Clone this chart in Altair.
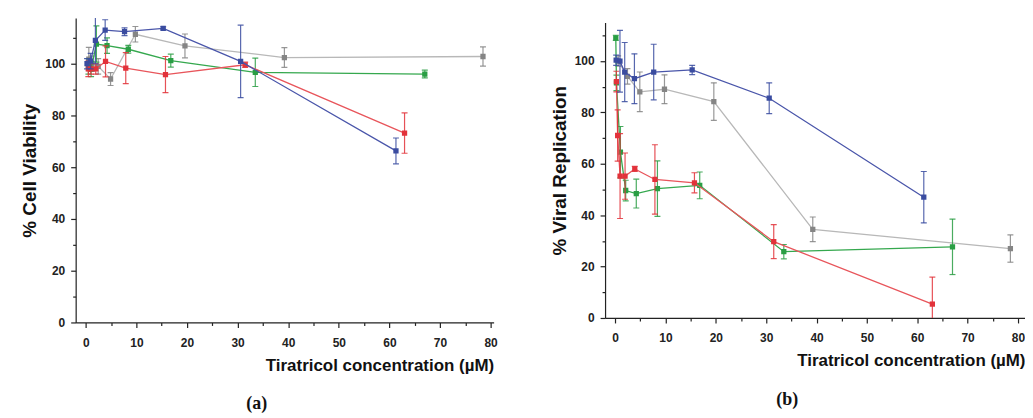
import altair as alt
import pandas as pd

# ---------------- data ----------------
series_names = ["blue", "red", "green", "gray"]
marker_colors = {"blue": "#3a4ca0", "red": "#e2323a", "green": "#2a9e44", "gray": "#858585"}
line_colors = {"blue": "#4a56aa", "red": "#e8555b", "green": "#35a84e", "gray": "#b8b8b8"}

# Panel (a): % Cell Viability
a_blue_x = [0.24, 0.96, 1.9, 3.83, 7.66, 15.3, 30.6, 61.3]
a_blue_y = [100.0, 101.0, 109.0, 113.0, 112.4, 113.7, 100.9, 66.3]
a_blue_e = [2.0, 3.0, 9.0, 4.0, 1.5, 0.6, 14.0, 5.0]

a_red_x = [0.5, 0.98, 1.97, 3.9, 7.9, 15.75, 31.5, 63.0]
a_red_y = [98.0, 98.0, 98.0, 100.9, 98.3, 95.8, 99.6, 73.2]
a_red_e = [3.0, 2.0, 2.0, 6.0, 6.0, 7.0, 1.0, 7.8]

a_green_x = [0.52, 1.05, 2.1, 4.2, 8.4, 16.8, 33.5, 67.0]
a_green_y = [99.0, 98.0, 107.6, 107.0, 105.6, 101.2, 96.7, 96.0]
a_green_e = [3.0, 3.0, 7.0, 3.0, 1.5, 2.5, 5.5, 1.5]

a_gray_x = [0.6, 1.2, 2.45, 4.9, 9.8, 19.6, 39.25, 78.5]
a_gray_y = [101.8, 100.0, 99.0, 94.1, 111.4, 106.9, 102.4, 102.8]
a_gray_e = [4.5, 3.0, 3.0, 2.5, 3.0, 4.6, 3.8, 3.7]

# Panel (b): % Viral Replication
b_blue_x = [0.2, 0.96, 1.9, 3.83, 7.66, 15.3, 30.6, 61.3]
b_blue_y = [100.3, 99.9, 95.7, 93.1, 95.7, 96.5, 85.5, 47.0]
b_blue_e = [2.0, 12.0, 11.5, 9.7, 10.8, 1.8, 6.0, 10.0]

b_red_x = [0.25, 0.5, 0.98, 1.97, 3.9, 7.9, 15.75, 31.5, 63.0]
b_red_y = [92.0, 71.0, 55.2, 55.2, 58.0, 53.9, 52.6, 29.7, 5.4]
b_red_e = [4.0, 10.0, 16.5, 9.0, 1.0, 13.5, 3.9, 6.6, 10.5]

b_green_x = [0.13, 0.26, 1.05, 2.1, 4.2, 8.4, 16.8, 33.5, 67.0]
b_green_y = [109.0, 91.5, 64.5, 49.6, 48.4, 50.3, 51.6, 25.8, 27.7]
b_green_e = [1.0, 3.0, 10.0, 4.0, 5.6, 10.8, 5.2, 2.8, 10.8]

b_gray_x = [0.6, 2.45, 4.9, 9.8, 19.6, 39.25, 78.5]
b_gray_y = [100.0, 94.0, 88.0, 89.0, 84.2, 34.5, 27.0]
b_gray_e = [2.0, 3.0, 7.7, 5.6, 7.3, 4.8, 5.3]

x_title = "Tiratricol concentration (µM)"
x_ticks = list(range(0, 81, 5))
y_ticks = list(range(0, 111, 10))


def frame(xs, ys, es):
    df = pd.DataFrame({"x": xs, "y": ys, "e": es})
    df["lo"] = df["y"] - df["e"]
    df["hi"] = df["y"] + df["e"]
    return df


panel_a = {
    "blue": frame(a_blue_x, a_blue_y, a_blue_e),
    "red": frame(a_red_x, a_red_y, a_red_e),
    "green": frame(a_green_x, a_green_y, a_green_e),
    "gray": frame(a_gray_x, a_gray_y, a_gray_e),
}
panel_b = {
    "blue": frame(b_blue_x, b_blue_y, b_blue_e),
    "red": frame(b_red_x, b_red_y, b_red_e),
    "green": frame(b_green_x, b_green_y, b_green_e),
    "gray": frame(b_gray_x, b_gray_y, b_gray_e),
}

FONT = "Liberation Sans"


def make_panel(data, ytitle, ymax, xmax, w, h, letter):
    xscale = alt.Scale(domain=[-2, xmax], nice=False, zero=False)
    yscale = alt.Scale(domain=[0, ymax], nice=False, zero=False)
    xaxis = alt.Axis(
        values=x_ticks,
        labelExpr="datum.value % 10 === 0 ? datum.label : ''",
        tickSize={"condition": {"test": "datum.value % 10 === 0", "value": 5}, "value": 3},
        labelPadding=10,
        title=x_title,
        titleAnchor="end",
        titlePadding=9,
        titleFontSize=17,
    )
    yaxis = alt.Axis(
        values=y_ticks,
        labelExpr="datum.value % 20 === 0 ? datum.label : ''",
        tickSize={"condition": {"test": "datum.value % 20 === 0", "value": 5}, "value": 3},
        labelPadding=6,
        title=ytitle,
        titlePadding=5,
        titleFontSize=19,
    )

    def X():
        return alt.X("x:Q", scale=xscale, axis=xaxis)

    def Y(field):
        return alt.Y(f"{field}:Q", scale=yscale, axis=yaxis)

    layers = []
    for s in ["gray", "green", "red", "blue"]:
        df = data[s]
        base = alt.Chart(df)
        layers.append(
            base.mark_line(color=line_colors[s], strokeWidth=1.3, clip=True).encode(x=X(), y=Y("y"))
        )
        layers.append(
            base.mark_rule(color=marker_colors[s], strokeWidth=1.2, clip=True, opacity=0.85).encode(
                x=X(), y=Y("lo"), y2="hi:Q"
            )
        )
        for f in ["lo", "hi"]:
            layers.append(
                base.mark_tick(
                    color=marker_colors[s], orient="horizontal", size=6, thickness=1.2,
                    clip=True, opacity=0.85
                ).encode(x=X(), y=Y(f))
            )
        layers.append(
            base.mark_square(color=marker_colors[s], size=28, opacity=1, clip=True).encode(
                x=X(), y=Y("y")
            )
        )
    return alt.layer(*layers).properties(
        width=w,
        height=h,
        title=alt.TitleParams(
            letter, orient="bottom", anchor="middle", font="Liberation Serif",
            fontSize=18, fontWeight="bold", color="#111", offset=22, dx=-28
        ),
    )


chart_a = make_panel(panel_a, "% Cell Viability", 117.7, 80.6, 420, 306, "(a)")
chart_b = make_panel(panel_b, "% Viral Replication", 115, 81.4, 422, 297, "(b)")

chart = (
    alt.hconcat(chart_a, chart_b, spacing=52, center=True)
    .properties(padding={"left": 12, "top": 9, "right": 0, "bottom": 0})
    .configure_view(stroke=None)
    .configure_axis(
        grid=False,
        domainColor="#222",
        domainWidth=1.2,
        tickColor="#222",
        tickWidth=1.2,
        labelFont=FONT,
        labelFontWeight="bold",
        labelFontSize=12,
        labelColor="#222",
        titleFont=FONT,
        titleFontWeight="bold",
        titleColor="#111",
    )
)

chart.save("out.html", embed_options={"renderer": "svg", "actions": False})
